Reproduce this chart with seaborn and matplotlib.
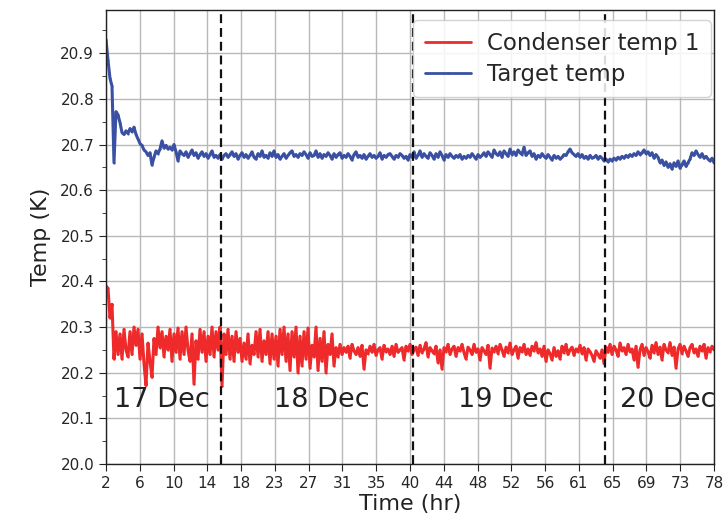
import numpy as np
import pandas as pd
import matplotlib
matplotlib.use("Agg")
import matplotlib.pyplot as plt
from matplotlib.ticker import AutoMinorLocator
import seaborn as sns

# ---- data (temperatures given in mK above 20 K, sampled every 0.25 hr from 2 to 78 hr) ----
t_start, t_end = 2.0, 78.0

condenser_mK = [
    390, 385, 320, 350,  # 2
    230, 290, 240, 285,  # 3
    230, 295, 250, 235,  # 4
    290, 240, 300, 260,  # 5
    295, 230, 285, 220,  # 6
    172, 265, 225, 190,  # 7
    275, 240, 300, 255,  # 8
    290, 235, 280, 250,  # 9
    295, 225, 285, 245,  # 10
    298, 230, 290, 240,  # 11
    300, 250, 225, 285,  # 12
    175, 270, 230, 295,  # 13
    245, 290, 225, 280,  # 14
    240, 300, 235, 290,  # 15
    250, 300, 170, 285,  # 16
    240, 295, 230, 280,  # 17
    225, 290, 245, 275,  # 18
    225, 265, 230, 285,  # 19
    220, 260, 240, 290,  # 20
    235, 295, 225, 270,  # 21
    240, 290, 220, 285,  # 22
    230, 280, 215, 295,  # 23
    240, 300, 225, 285,  # 24
    205, 290, 235, 300,  # 25
    200, 280, 215, 290,  # 26
    230, 298, 210, 260,  # 27
    235, 300, 205, 275,  # 28
    225, 290, 200, 262,  # 29
    240, 285, 215, 255,  # 30
    235, 262, 240, 255,  # 31
    245, 258, 232, 262,  # 32
    248, 240, 255, 236,  # 33
    260, 208, 250, 242,  # 34
    258, 245, 262, 238,  # 35
    250, 255, 230, 260,  # 36
    246, 252, 240, 258,  # 37
    236, 262, 245, 250,  # 38
    255, 228, 258, 248,  # 39
    262, 240, 250, 256,  # 40
    238, 260, 244, 252,  # 41
    266, 235, 255, 248,  # 42
    242, 258, 222, 250,  # 43
    208, 255, 246, 262,  # 44
    240, 252, 258, 236,  # 45
    255, 248, 262, 244,  # 46
    230, 256, 250, 240,  # 47
    262, 245, 252, 228,  # 48
    255, 248, 240, 260,  # 49
    210, 254, 246, 258,  # 50
    242, 262, 250, 236,  # 51
    256, 244, 265, 240,  # 52
    250, 258, 232, 255,  # 53
    246, 262, 240, 252,  # 54
    238, 258, 248, 266,  # 55
    244, 252, 236, 258,  # 56
    225, 250, 242, 228,  # 57
    255, 236, 248, 230,  # 58
    258, 244, 262, 240,  # 59
    250, 256, 238, 252,  # 60
    246, 260, 242, 255,  # 61
    228, 252, 246, 238,  # 62
    225, 248, 240, 232,  # 63
    250, 220, 256, 245,  # 64
    262, 240, 258, 250,  # 65
    236, 265, 248, 255,  # 66
    240, 262, 246, 252,  # 67
    228, 258, 212, 250,  # 68
    262, 238, 255, 246,  # 69
    232, 260, 244, 266,  # 70
    240, 256, 228, 262,  # 71
    250, 244, 266, 238,  # 72
    256, 210, 252, 262,  # 73
    242, 258, 248, 236,  # 74
    255, 262, 244, 252,  # 75
    236, 258, 248, 262,  # 76
    232, 255, 246, 258,  # 77
    250,                 # 78
]

target_mK = [
    930, 885, 845, 828,  # 2
    660, 772, 765, 748,  # 3
    726, 722, 730, 724,  # 4
    735, 728, 738, 722,  # 5
    712, 702, 698, 688,  # 6
    684, 676, 682, 655,  # 7
    672, 686, 680, 690,  # 8
    708, 692, 698, 690,  # 9
    694, 688, 700, 684,  # 10
    664, 686, 680, 676,  # 11
    684, 672, 680, 688,  # 12
    676, 682, 670, 678,  # 13
    684, 674, 680, 670,  # 14
    678, 686, 672, 676,  # 15
    670, 678, 668, 676,  # 16
    680, 672, 678, 684,  # 17
    674, 680, 668, 676,  # 18
    682, 672, 678, 670,  # 19
    676, 684, 672, 668,  # 20
    680, 674, 686, 672,  # 21
    676, 670, 682, 674,  # 22
    686, 672, 678, 668,  # 23
    674, 680, 670, 676,  # 24
    682, 686, 674, 678,  # 25
    672, 680, 676, 684,  # 26
    678, 670, 682, 674,  # 27
    676, 686, 672, 680,  # 28
    670, 678, 674, 682,  # 29
    676, 668, 680, 672,  # 30
    678, 682, 670, 676,  # 31
    672, 680, 674, 666,  # 32
    678, 684, 672, 676,  # 33
    670, 678, 668, 674,  # 34
    680, 672, 676, 670,  # 35
    674, 682, 668, 676,  # 36
    672, 678, 680, 674,  # 37
    668, 676, 672, 680,  # 38
    676, 670, 674, 666,  # 39
    678, 672, 684, 670,  # 40
    676, 686, 672, 680,  # 41
    674, 670, 682, 676,  # 42
    668, 680, 672, 684,  # 43
    676, 666, 678, 672,  # 44
    680, 674, 670, 676,  # 45
    672, 678, 668, 674,  # 46
    670, 676, 672, 680,  # 47
    674, 668, 678, 672,  # 48
    676, 682, 674, 684,  # 49
    678, 672, 688, 680,  # 50
    676, 684, 672, 686,  # 51
    680, 674, 690, 678,  # 52
    684, 676, 688, 682,  # 53
    678, 694, 676, 682,  # 54
    686, 674, 680, 668,  # 55
    676, 672, 680, 674,  # 56
    670, 678, 672, 666,  # 57
    676, 670, 674, 668,  # 58
    672, 678, 676, 684,  # 59
    690, 682, 678, 674,  # 60
    680, 672, 678, 670,  # 61
    674, 668, 676, 670,  # 62
    672, 676, 668, 674,  # 63
    670, 664, 668, 662,  # 64
    668, 664, 670, 666,  # 65
    672, 668, 674, 670,  # 66
    676, 672, 678, 674,  # 67
    680, 676, 684, 678,  # 68
    682, 688, 680, 684,  # 69
    676, 682, 670, 678,  # 70
    672, 660, 666, 654,  # 71
    662, 650, 658, 646,  # 72
    660, 652, 664, 648,  # 73
    656, 664, 652, 660,  # 74
    668, 682, 676, 686,  # 75
    678, 672, 680, 670,  # 76
    674, 668, 664, 670,  # 77
    660,                 # 78
]

series_names = ["Condenser temp 1", "Target temp"]
series_colors = ["#ee2a2a", "#3a50a2"]

xtick_labels = ["2", "6", "10", "14", "18", "23", "27", "31", "35", "40",
                "44", "48", "52", "56", "61", "65", "69", "73", "78"]
day_boundaries = [16.4, 40.4, 64.4]
day_labels = ["17 Dec", "18 Dec", "19 Dec", "20 Dec"]
day_label_x = [9.0, 29.0, 52.0, 72.2]
day_label_y = 20.14

# ---- build table ----
n = len(condenser_mK)
time_hr = np.linspace(t_start, t_end, n)
df = pd.concat([
    pd.DataFrame({"Time (hr)": time_hr,
                  "Temp (K)": 20.0 + np.array(condenser_mK) / 1000.0,
                  "series": series_names[0]}),
    pd.DataFrame({"Time (hr)": time_hr,
                  "Temp (K)": 20.0 + np.array(target_mK) / 1000.0,
                  "series": series_names[1]}),
])

sns.set_style("ticks")
plt.rcParams["font.family"] = ["DejaVu Sans"]

fig = plt.figure(figsize=(7.26, 5.19), dpi=100)
ax = fig.add_axes([0.146, 0.106, 0.8375, 0.875])

sns.lineplot(data=df, x="Time (hr)", y="Temp (K)", hue="series",
             palette=dict(zip(series_names, series_colors)),
             hue_order=series_names, ax=ax, lw=2.2, marker=".", ms=3,
             markeredgewidth=0, estimator=None, sort=False)

for xb in day_boundaries:
    ax.axvline(xb, color="#111111", ls=(0, (4, 2.2)), lw=1.6, zorder=3)

for lab, xl in zip(day_labels, day_label_x):
    ax.text(xl, day_label_y, lab, fontsize=19.5, ha="center", va="center",
            color="#222222", zorder=4)

ax.set_xlim(t_start, t_end)
ax.set_ylim(20.0, 20.995)
ax.set_xticks(np.linspace(t_start, t_end, len(xtick_labels)))
ax.set_xticklabels(xtick_labels)
ax.set_yticks(np.arange(20.0, 20.95, 0.1))
ax.yaxis.set_minor_locator(AutoMinorLocator(2))
ax.grid(True, which="major", color="#b8b8b8", lw=1.0)
ax.tick_params(axis="both", which="major", labelsize=11, length=5,
               color="#222222", direction="out")
ax.tick_params(axis="y", which="minor", length=3, color="#222222")
for s in ax.spines.values():
    s.set_visible(True)
    s.set_color("#222222")
    s.set_linewidth(1.0)

ax.set_xlabel("Time (hr)", fontsize=16, color="#222222", labelpad=2)
ax.set_ylabel("Temp (K)", fontsize=16, color="#222222", labelpad=7)

leg = ax.legend(loc="upper right", bbox_to_anchor=(1.0, 0.985), fontsize=16.5,
                frameon=True, handlelength=2.0, borderpad=0.5,
                labelspacing=0.35, borderaxespad=0.15, handletextpad=0.7)
leg.get_frame().set_edgecolor("#cccccc")
leg.get_frame().set_alpha(0.85)
for h in leg.get_lines():
    h.set_linewidth(2.0)

fig.savefig("out.png", dpi=100)
